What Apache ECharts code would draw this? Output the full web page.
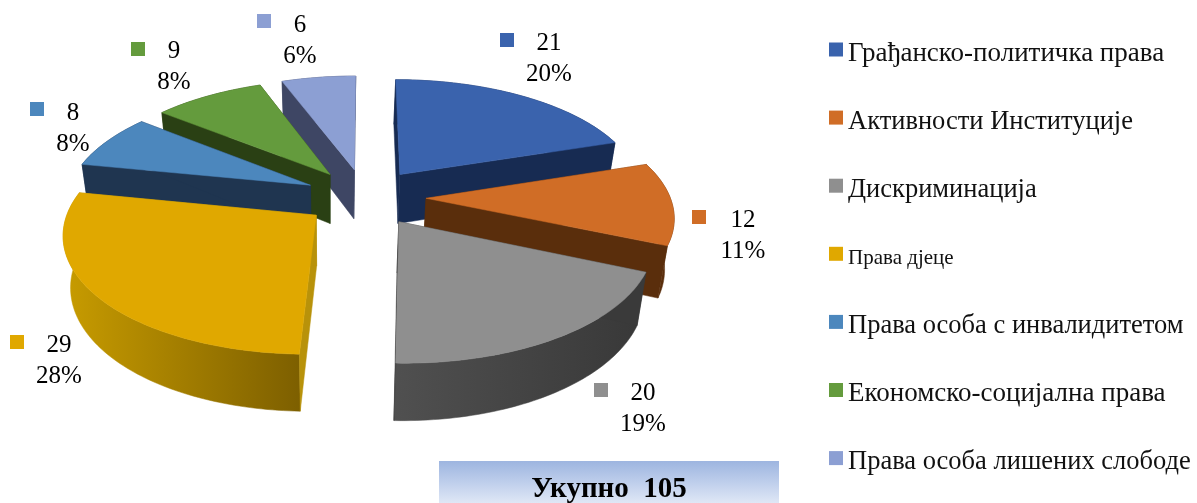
<!DOCTYPE html>
<html>
<head>
<meta charset="utf-8">
<style>html,body{margin:0;padding:0;background:#fff}#c{width:1197px;height:503px}</style>
<script src="https://cdn.jsdelivr.net/npm/echarts@6/dist/echarts.min.js"></script>
</head>
<body>
<div id="c"></div>
<script>
const categories = ['Грађанско-политичка права','Активности Институције','Дискриминација','Права дјеце','Права особа с инвалидитетом','Економско-социјална права','Права особа лишених слободе'];
const values = [21, 12, 20, 29, 8, 9, 6];
const percents = [20, 11, 19, 28, 8, 8, 6];
const totalLabel = 'Укупно  105';

const topColors = ['#3a63ad','#d06d26','#8f8f8f','#e0a800','#4c87bd','#649b3d','#8c9fd3'];
const radialColors = ['#172b52','#5a2e0c','#3a3a3a','#b8920a','#1f3550','#2a4014','#3e4664'];
const rimColors = [
  ['#172b52','#172b52'],['#5a2e0c','#5a2e0c'],['#505050','#383838'],
  ['#c89c00','#7d5f00'],['#1f3550','#1f3550'],['#2a4014','#2a4014'],['#3e4664','#3e4664']
];
const paintOrder = [1, 2, 3, 4, 3, 2, 1];
const legendFontSizes = [26.5, 26.5, 26.5, 21, 26.5, 26.5, 26.5];
const legendLetterFit = [27, 26.5, 26.5, 21, 26.5, 27, 26.5];
const labelAnchors = [[549,58.5],[743,235.5],[643,408.5],[59,360.5],[73,128.5],[174,66.5],[300,41]];
const markerBoxes = [[500,33],[692,210],[594,383],[10,335],[30,102],[131,42],[257,14]];

// Oblique view of the exploded pie
const CX = 365, CY = 197, SCALE_X = 244, SCALE_Y = 114, PERSP = 0.14;
const EXPLODE = 0.25, DEPTH = 50, INSET = 0.028, VANISH_X = 330;
const total = values.reduce((a, b) => a + b, 0);

function top3d(X, Y) {
  const s = 1 / (1 + PERSP * Y);
  return { p: [CX + SCALE_X * X * s, CY - SCALE_Y * Y * s], s };
}
function bottomOf(t) {
  return [t.p[0] + (VANISH_X - t.p[0]) * INSET, t.p[1] + DEPTH * Math.pow(t.s, 0.75)];
}

const startAngles = [];
values.reduce((acc, v, i) => { startAngles[i] = acc; return acc + v / total * 2 * Math.PI; }, 0);

function renderSlice(idx) {
  return function () {
    const a0 = startAngles[idx], a1 = a0 + values[idx] / total * 2 * Math.PI, mid = (a0 + a1) / 2;
    const ox = EXPLODE * Math.sin(mid), oy = EXPLODE * Math.cos(mid);
    const n = Math.max(8, Math.round((a1 - a0) / 0.02));
    const rim = [];
    for (let i = 0; i <= n; i++) {
      const a = a0 + (a1 - a0) * i / n;
      rim.push(top3d(ox + Math.sin(a), oy + Math.cos(a)));
    }
    const apex = top3d(ox, oy);
    const rimTop = rim.map(t => t.p), rimBot = rim.map(bottomOf);
    const poly = (points, fill) => ({ type: 'polygon', shape: { points }, style: { fill, stroke: fill, lineWidth: 0.5 } });
    const rimFill = new echarts.graphic.LinearGradient(0, 0, 1, 0, [
      { offset: 0, color: rimColors[idx][0] }, { offset: 1, color: rimColors[idx][1] }
    ]);
    const [mx, my] = markerBoxes[idx];
    const [lx, ly] = labelAnchors[idx];
    return {
      type: 'group',
      children: [
        poly(rimTop.concat(rimBot.slice().reverse()), rimFill),
        poly([apex.p, rimTop[0], rimBot[0], bottomOf(apex)], radialColors[idx]),
        poly([apex.p, rimTop[n], rimBot[n], bottomOf(apex)], radialColors[idx]),
        poly([apex.p].concat(rimTop), topColors[idx]),
        { type: 'rect', shape: { x: mx, y: my, width: 14, height: 14 }, style: { fill: topColors[idx] } },
        { type: 'text', x: lx, y: ly, style: {
            text: values[idx] + '\n' + percents[idx] + '%',
            font: '25px "Liberation Serif"', fill: '#000', lineHeight: 31,
            textAlign: 'center', textVerticalAlign: 'middle' } }
      ]
    };
  };
}

const legendRich = { pad: { fontFamily: '"Liberation Serif"', fontSize: 26.5, color: '#111', padding: [8.5, 0, 0, 0] } };
legendLetterFit.forEach((fontSize, i) => {
  legendRich['s' + i] = { fontFamily: '"Liberation Serif"', fontSize, color: '#111', padding: [8.5, 0, 0, 0] };
});

const chart = echarts.init(document.getElementById('c'), null, { renderer: 'canvas' });
chart.setOption({
  animation: false,
  backgroundColor: '#fff',
  legend: {
    orient: 'vertical', left: 829, top: 40.25, padding: 0,
    itemWidth: 14, itemHeight: 14, itemGap: 41.1, icon: 'rect', selectedMode: false,
    formatter: name => {
      const i = categories.indexOf(name);
      return '{s' + i + '|' + name + '}' + (legendFontSizes[i] < 26 ? '{pad| }' : '');
    },
    textStyle: { rich: legendRich },
    data: categories
  },
  graphic: [
    { type: 'rect', z: 5, shape: { x: 439, y: 461, width: 340, height: 42 },
      style: { fill: new echarts.graphic.LinearGradient(0, 0, 0, 1, [
        { offset: 0, color: '#9db5e0' }, { offset: 1, color: '#dfe7f6' }]) } },
    { type: 'text', z: 6, x: 609, y: 490, style: {
        text: totalLabel, font: 'bold 29px "Liberation Serif"', fill: '#000',
        textAlign: 'center', textVerticalAlign: 'middle' } }
  ],
  series: categories.map((name, i) => ({
    type: 'custom', name, coordinateSystem: 'none', z: paintOrder[i], silent: true,
    itemStyle: { color: topColors[i] },
    data: [values[i]],
    renderItem: renderSlice(i)
  }))
});
</script>
</body>
</html>
